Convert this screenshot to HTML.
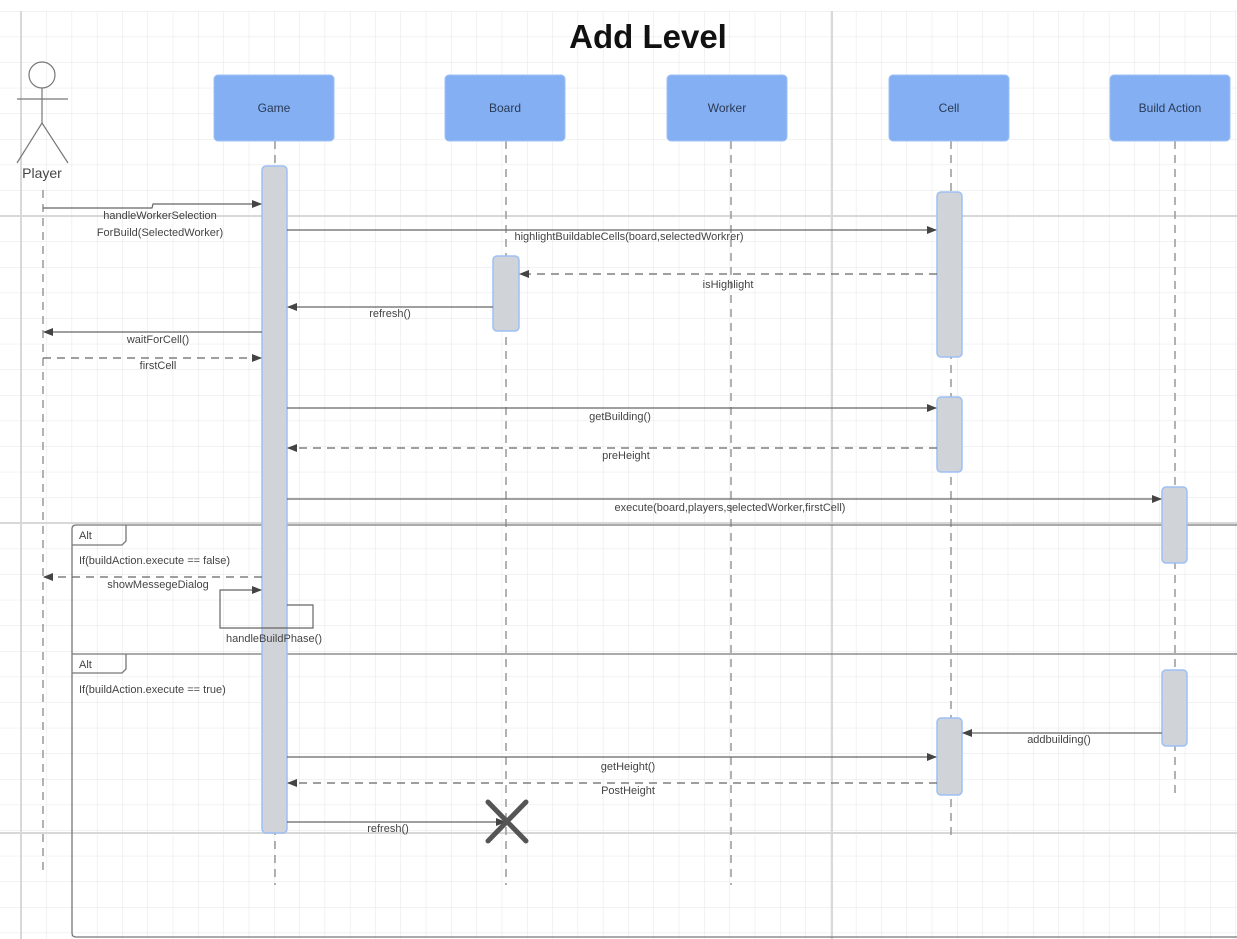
<!DOCTYPE html>
<html><head><meta charset="utf-8"><style>
html,body{margin:0;padding:0;background:#fff;}
svg{display:block;font-family:"Liberation Sans",sans-serif;}
</style></head><body>
<svg width="1237" height="939" viewBox="0 0 1237 939" xmlns="http://www.w3.org/2000/svg">
<defs>
<pattern id="g" x="21" y="11" width="25.3" height="25.6" patternUnits="userSpaceOnUse">
<path d="M0 0V25.6M0 0H25.3" stroke="#e6e6e6" stroke-width="1" fill="none"/>
</pattern>
<marker id="a" markerWidth="10" markerHeight="8" refX="9" refY="4" orient="auto" markerUnits="userSpaceOnUse">
<path d="M0 0L10 4L0 8Z" fill="#444"/></marker>
</defs>
<rect x="0" y="11" width="1237" height="928" fill="url(#g)"/>
<g stroke="#d8d8d8" stroke-width="2">
<line x1="0" y1="216" x2="1237" y2="216"/>
<line x1="0" y1="523" x2="1237" y2="523"/>
<line x1="0" y1="833" x2="1237" y2="833"/>
<line x1="832" y1="11" x2="832" y2="939"/>
<line x1="21" y1="11" x2="21" y2="939"/>
</g>
<text x="648" y="48" font-size="33" font-weight="bold" text-anchor="middle" fill="#111">Add Level</text>

<!-- actor -->
<g stroke="#777" stroke-width="1.2" fill="none">
<circle cx="42" cy="75" r="13"/>
<line x1="42" y1="88" x2="42" y2="123"/>
<line x1="17" y1="99" x2="68" y2="99"/>
<line x1="42" y1="123" x2="17" y2="163"/>
<line x1="42" y1="123" x2="68" y2="163"/>
</g>
<text x="42" y="178" font-size="14" text-anchor="middle" fill="#444">Player</text>

<!-- lifelines -->
<g stroke="#999" stroke-width="1.5" stroke-dasharray="8,6" fill="none">
<line x1="43" y1="190" x2="43" y2="875"/>
<line x1="275" y1="141" x2="275" y2="885"/>
<line x1="506" y1="141" x2="506" y2="885"/>
<line x1="731" y1="141" x2="731" y2="885"/>
<line x1="951" y1="141" x2="951" y2="835"/>
<line x1="1175" y1="141" x2="1175" y2="795"/>
</g>

<!-- heads -->
<g fill="#84b0f3" stroke="#9dc0f5">
<rect x="214" y="75" width="120" height="66" rx="4"/>
<rect x="445" y="75" width="120" height="66" rx="4"/>
<rect x="667" y="75" width="120" height="66" rx="4"/>
<rect x="889" y="75" width="120" height="66" rx="4"/>
<rect x="1110" y="75" width="120" height="66" rx="4"/>
</g>
<g font-size="12" text-anchor="middle" fill="#2a3a55">
<text x="274" y="112">Game</text>
<text x="505" y="112">Board</text>
<text x="727" y="112">Worker</text>
<text x="949" y="112">Cell</text>
<text x="1170" y="112">Build Action</text>
</g>

<!-- frames -->
<g stroke="#777" stroke-width="1.3" fill="none">
<path d="M1237 525H76Q72 525 72 529V933Q72 937 76 937H1237"/>
<path d="M72 545H122L126 541V525"/>
<line x1="72" y1="654" x2="1237" y2="654"/>
<path d="M72 673H122L126 669V654"/>
</g>
<g font-size="11" fill="#444">
<text x="79" y="539">Alt</text>
<text x="79" y="668">Alt</text>
<text x="79" y="564">If(buildAction.execute == false)</text>
<text x="79" y="693">If(buildAction.execute == true)</text>
</g>

<!-- activations -->
<g fill="#d0d3d8" stroke="#9dc0f5" stroke-width="1.5">
<rect x="262" y="166" width="25" height="667" rx="4"/>
<rect x="937" y="192" width="25" height="165" rx="4"/>
<rect x="493" y="256" width="26" height="75" rx="4"/>
<rect x="937" y="397" width="25" height="75" rx="4"/>
<rect x="1162" y="487" width="25" height="76" rx="4"/>
<rect x="1162" y="670" width="25" height="76" rx="4"/>
<rect x="937" y="718" width="25" height="77" rx="4"/>
</g>

<!-- messages -->
<g stroke="#666" stroke-width="1.2" fill="none" marker-end="url(#a)">
<path d="M43 208H152L153 204H261"/>
<line x1="287" y1="230" x2="936" y2="230"/>
<line x1="937" y1="274" x2="520" y2="274" stroke-dasharray="8,6"/>
<line x1="493" y1="307" x2="288" y2="307"/>
<line x1="262" y1="332" x2="44" y2="332"/>
<line x1="43" y1="358" x2="261" y2="358" stroke-dasharray="8,6"/>
<line x1="287" y1="408" x2="936" y2="408"/>
<line x1="937" y1="448" x2="288" y2="448" stroke-dasharray="8,6"/>
<line x1="287" y1="499" x2="1161" y2="499"/>
<line x1="262" y1="577" x2="44" y2="577" stroke-dasharray="8,6"/>
<path d="M287 605H313V628H220V590H261"/>
<line x1="1162" y1="733" x2="963" y2="733"/>
<line x1="287" y1="757" x2="936" y2="757"/>
<line x1="937" y1="783" x2="288" y2="783" stroke-dasharray="8,6"/>
<line x1="287" y1="822" x2="505" y2="822"/>
</g>
<g stroke="#555" stroke-width="5" stroke-linecap="round">
<line x1="488" y1="802" x2="526" y2="841"/>
<line x1="526" y1="802" x2="488" y2="841"/>
</g>

<g font-size="11" fill="#444" text-anchor="middle">
<text x="160" y="219">handleWorkerSelection</text>
<text x="160" y="236">ForBuild(SelectedWorker)</text>
<text x="629" y="240">highlightBuildableCells(board,selectedWorkrer)</text>
<text x="728" y="288">isHighlight</text>
<text x="390" y="317">refresh()</text>
<text x="158" y="343">waitForCell()</text>
<text x="158" y="369">firstCell</text>
<text x="620" y="420">getBuilding()</text>
<text x="626" y="459">preHeight</text>
<text x="730" y="511">execute(board,players,selectedWorker,firstCell)</text>
<text x="158" y="588">showMessegeDialog</text>
<text x="274" y="642">handleBuildPhase()</text>
<text x="1059" y="743">addbuilding()</text>
<text x="628" y="770">getHeight()</text>
<text x="628" y="794">PostHeight</text>
<text x="388" y="832">refresh()</text>
</g>
</svg>
</body></html>
